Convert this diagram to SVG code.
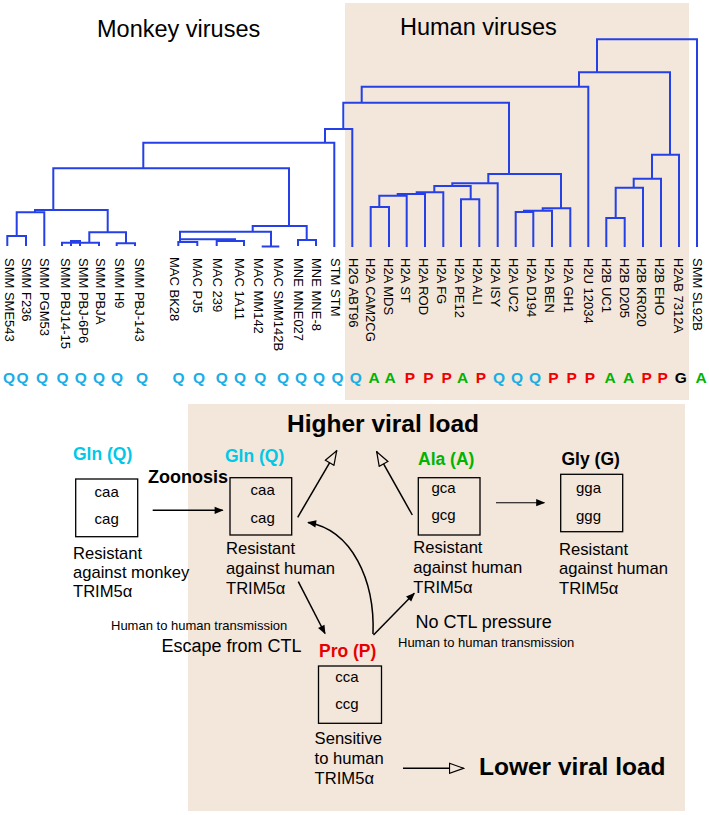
<svg xmlns="http://www.w3.org/2000/svg" width="709" height="815" viewBox="0 0 709 815">
<style>
text{font-family:"Liberation Sans",Arial,sans-serif;fill:#000}
.tree{fill:none;stroke:#2440e6;stroke-width:2}
.lab{font-size:13px}
.let{font-size:15.5px;font-weight:bold;text-anchor:middle}
.q{fill:#1aaee6}.a{fill:#00b400}.p{fill:#f00000}.g{fill:#000}
.title{font-size:23.5px}
.big{font-size:24.5px;font-weight:bold}
.aa{font-size:17.5px;font-weight:bold}
.cod{font-size:15px;text-anchor:middle}
.desc{font-size:16.6px}
.mid{font-size:18px}
.sm{font-size:13px}
.box{fill:none;stroke:#000;stroke-width:1.3}
.arr{fill:none;stroke:#000;stroke-width:1.5}
.bg{fill:#f3e6da}
</style>
<defs>
<marker id="fa" viewBox="0 0 10 10" refX="9" refY="5" markerWidth="10" markerHeight="9" markerUnits="userSpaceOnUse" orient="auto"><path d="M0,1 L10,5 L0,9 z" fill="#000"/></marker>
<marker id="ha" viewBox="0 0 16 12" refX="15" refY="6" markerWidth="16" markerHeight="12" markerUnits="userSpaceOnUse" orient="auto"><path d="M1,1 L15,6 L1,11 z" fill="#f3e6da" stroke="#000" stroke-width="1.2"/></marker>
</defs>
<rect width="709" height="815" fill="#fff"/>
<rect class="bg" x="345" y="3" width="344" height="397"/>
<rect class="bg" x="188" y="404" width="497" height="407"/>

<g id="titles">
<text class="title" x="97" y="37">Monkey viruses</text>
<text class="title" x="400" y="35">Human viruses</text>
</g>

<g id="tree" class="tree">
<path d="M597 72.3V39.3H697V247M579 86.7V72.3H670V154.7M652 178.7V154.7H679V247M633.7 187.7V178.7H661V247M615.7 218V187.7H643V247M606.3 247V218H624.7V247"/>
<path d="M361.7 102.7V86.7H588.3V247M343.3 129V102.7H509V174M488.3 183.3V174H561V208.3M542.7 210.7V208.3H570.3V247M524 212V210.7H552V247M515.7 247V212H533.3V247"/>
<path d="M452.3 186V183.3H497.7V247M434.3 192.3V186H470.7V199.3M461 247V199.3H479.3V247M416.7 194V192.3H443.3V247M397.7 195.7V194H425V247M379.3 207V195.7H406.7V247M370.7 247V207H389V247"/>
<path d="M325 142.7V129H352.3V247M143.3 168.3V142.7H334.3V247M53.3 210V168.3H289V226M252.7 231.7V226H306.7V240M298 246V240H316V246"/>
<path d="M180 242V231.7H271V246.5M261.7 246.5H279.3M180 239.3H235V241M178.3 246V242H197.3V246M216.7 246V241H244V246"/>
<path d="M35 212.3V210H107.7V232.3M16.7 236V212.3H44.3V246M7.3 246V236H26V246M89.3 242.7V232.3H126V243.3M116.7 246V243.3H135V246M62 246V242.7H99V246M71 246V241H80V246"/>
</g>

<g id="leaf-labels" class="lab">
<text transform="translate(4.7,258) rotate(90)">SMM SME543</text>
<text transform="translate(22.1,258) rotate(90)">SMM F236</text>
<text transform="translate(40.4,258) rotate(90)">SMM PGM53</text>
<text transform="translate(60.7,258) rotate(90)">SMM PBJ14-15</text>
<text transform="translate(78.7,258) rotate(90)">SMM PBJ-6P6</text>
<text transform="translate(96.1,258) rotate(90)">SMM PBJA</text>
<text transform="translate(114.7,258) rotate(90)">SMM H9</text>
<text transform="translate(134.7,258) rotate(90)">SMM PBJ-143</text>
<text transform="translate(170.4,257) rotate(90)">MAC BK28</text>
<text transform="translate(193.4,258) rotate(90)">MAC PJ5</text>
<text transform="translate(213.4,258) rotate(90)">MAC 239</text>
<text transform="translate(235.4,258) rotate(90)">MAC 1A11</text>
<text transform="translate(254.4,258) rotate(90)">MAC MM142</text>
<text transform="translate(274.4,258) rotate(90)">MAC SMM142B</text>
<text transform="translate(294.4,258) rotate(90)">MNE MNE027</text>
<text transform="translate(312.4,258) rotate(90)">MNE MNE-8</text>
<text transform="translate(331.4,258) rotate(90)">STM STM</text>
<text transform="translate(349.4,258) rotate(90)">H2G ABT96</text>
<text transform="translate(366.1,258) rotate(90)">H2A CAM2CG</text>
<text transform="translate(383.7,258) rotate(90)">H2A MDS</text>
<text transform="translate(401.4,258) rotate(90)">H2A ST</text>
<text transform="translate(419.4,258) rotate(90)">H2A ROD</text>
<text transform="translate(437.1,258) rotate(90)">H2A FG</text>
<text transform="translate(454.7,258) rotate(90)">H2A PE12</text>
<text transform="translate(472.7,258) rotate(90)">H2A ALI</text>
<text transform="translate(491.4,258) rotate(90)">H2A  ISY</text>
<text transform="translate(509.4,258) rotate(90)">H2A UC2</text>
<text transform="translate(527.1,258) rotate(90)">H2A D194</text>
<text transform="translate(545.4,258) rotate(90)">H2A BEN</text>
<text transform="translate(563.7,258) rotate(90)">H2A GH1</text>
<text transform="translate(583.7,258) rotate(90)">H2U 12034</text>
<text transform="translate(602.1,258) rotate(90)">H2B UC1</text>
<text transform="translate(619.7,258) rotate(90)">H2B D205</text>
<text transform="translate(637.1,258) rotate(90)">H2B KR020</text>
<text transform="translate(655.4,258) rotate(90)">H2B EHO</text>
<text transform="translate(673.7,258) rotate(90)">H2AB 7312A</text>
<text transform="translate(692.7,258) rotate(90)">SMM SL92B</text>
</g>

<g id="residues" class="let">
<text class="q" x="9" y="383">Q</text><text class="q" x="22.6" y="383">Q</text><text class="q" x="42" y="383">Q</text><text class="q" x="62.6" y="383">Q</text><text class="q" x="80.8" y="383">Q</text><text class="q" x="99" y="383">Q</text><text class="q" x="117" y="383">Q</text><text class="q" x="142" y="383">Q</text>
<text class="q" x="178.5" y="383">Q</text><text class="q" x="199" y="383">Q</text><text class="q" x="221.7" y="383">Q</text><text class="q" x="240" y="383">Q</text><text class="q" x="260.4" y="383">Q</text><text class="q" x="283" y="383">Q</text><text class="q" x="301" y="383">Q</text><text class="q" x="319" y="383">Q</text><text class="q" x="337.6" y="383">Q</text><text class="q" x="355.8" y="383">Q</text>
<text class="a" x="374" y="383">A</text><text class="a" x="390" y="383">A</text><text class="p" x="410" y="383">P</text><text class="p" x="428.5" y="383">P</text><text class="p" x="446.7" y="383">P</text><text class="a" x="462.6" y="383">A</text><text class="p" x="480.8" y="383">P</text><text class="q" x="499" y="383">Q</text><text class="q" x="517" y="383">Q</text><text class="q" x="535" y="383">Q</text><text class="p" x="553.5" y="383">P</text><text class="p" x="571.7" y="383">P</text><text class="p" x="590" y="383">P</text><text class="a" x="610" y="383">A</text><text class="a" x="628.5" y="383">A</text><text class="p" x="646.7" y="383">P</text><text class="p" x="662.6" y="383">P</text><text class="g" x="680.8" y="383">G</text><text class="a" x="701" y="383">A</text>
</g>

<g id="higher-load"><text class="big" x="287" y="432">Higher viral load</text></g>
<g id="lower-load"><text class="big" x="479" y="775">Lower viral load</text></g>

<g id="monkey-gln">
<text class="aa" x="73" y="460" style="fill:#00c8e6">Gln (Q)</text>
<rect class="box" x="75.7" y="479" width="62" height="57.7"/>
<text class="cod" x="106.7" y="497">caa</text>
<text class="cod" x="106.7" y="524">cag</text>
<text class="desc" x="73" y="559">Resistant</text>
<text class="desc" x="73" y="578">against monkey</text>
<text class="desc" x="73" y="597">TRIM5α</text>
</g>

<g id="zoonosis-label"><text class="mid" x="148" y="483" style="font-weight:bold">Zoonosis</text></g>

<g id="human-gln">
<text class="aa" x="225" y="462" style="fill:#00c8e6">Gln (Q)</text>
<rect class="box" x="230" y="477.7" width="61.7" height="57.3"/>
<text class="cod" x="262.7" y="495">caa</text>
<text class="cod" x="262.7" y="523">cag</text>
<text class="desc" x="226" y="554">Resistant</text>
<text class="desc" x="226" y="574">against human</text>
<text class="desc" x="226" y="593.5">TRIM5α</text>
</g>

<g id="ala">
<text class="aa" x="418" y="465" style="fill:#00b400">Ala (A)</text>
<rect class="box" x="418.3" y="477.7" width="61.7" height="57.3"/>
<text class="cod" x="443.5" y="493">gca</text>
<text class="cod" x="443.5" y="520">gcg</text>
<text class="desc" x="413.3" y="553">Resistant</text>
<text class="desc" x="413.3" y="572.5">against human</text>
<text class="desc" x="413.3" y="592.5">TRIM5α</text>
</g>

<g id="gly">
<text class="aa" x="561.5" y="465">Gly (G)</text>
<rect class="box" x="560.7" y="474.3" width="62" height="57.4"/>
<text class="cod" x="588.5" y="493">gga</text>
<text class="cod" x="588.5" y="521">ggg</text>
<text class="desc" x="559" y="554.5">Resistant</text>
<text class="desc" x="559" y="574">against human</text>
<text class="desc" x="559" y="594">TRIM5α</text>
</g>

<g id="pro">
<text class="aa" x="319" y="657" style="fill:#e80000">Pro (P)</text>
<rect class="box" x="318.5" y="666" width="63" height="57.3"/>
<text class="cod" x="347" y="682">cca</text>
<text class="cod" x="347" y="708.5">ccg</text>
<text class="desc" x="314.6" y="743.5">Sensitive</text>
<text class="desc" x="314.6" y="763.5">to human</text>
<text class="desc" x="314.6" y="783.5">TRIM5α</text>
</g>

<g id="ctl-escape-label">
<text class="sm" x="111" y="629.5">Human to human  transmission</text>
<text class="mid" x="161.5" y="652">Escape from CTL</text>
</g>
<g id="no-ctl-label">
<text class="mid" x="415.4" y="627.5">No CTL pressure</text>
<text class="sm" x="398" y="647">Human to human transmission</text>
</g>

<g id="connectors">
<line class="arr" x1="152.7" y1="510.3" x2="222.7" y2="510.3" marker-end="url(#fa)"/>
<line class="arr" x1="297.7" y1="517.3" x2="336.7" y2="450.7" marker-end="url(#ha)"/>
<line class="arr" x1="412.3" y1="515" x2="376.7" y2="451.7" marker-end="url(#ha)"/>
<line class="arr" style="stroke-width:1.1" x1="496" y1="502.7" x2="544.3" y2="502.7" marker-end="url(#fa)"/>
<line class="arr" x1="298.3" y1="581.7" x2="325" y2="633.5" marker-end="url(#fa)"/>
<line class="arr" x1="373.5" y1="635" x2="414.3" y2="593.3" marker-end="url(#fa)"/>
<path class="arr" d="M373 634 C375 580 352 530 308 522.5" marker-end="url(#fa)"/>
<line class="arr" x1="403" y1="768.3" x2="463.5" y2="768.3" marker-end="url(#ha)"/>
</g>
</svg>
